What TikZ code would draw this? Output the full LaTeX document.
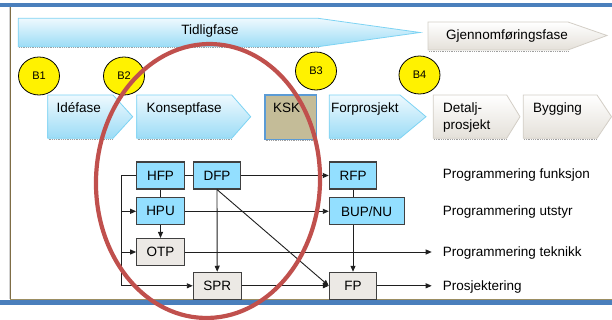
\documentclass[tikz,border=0pt]{standalone}
\usepackage{fontspec}
\setmainfont{Liberation Sans}
\usetikzlibrary{arrows.meta,shapes.geometric}
\newcommand\figfont{\fontsize{13.5}{16}\selectfont}
\newcommand\bfont{\fontsize{11}{13}\selectfont}
\definecolor{frameblue}{HTML}{4A7FBC}
\definecolor{framebrown}{HTML}{7F6D45}
\definecolor{frametan}{HTML}{9C8E62}
\definecolor{cyantop}{HTML}{EEF9FE}
\definecolor{cyanbot}{HTML}{9CDCF6}
\definecolor{cyanline}{HTML}{7DD3F3}
\definecolor{greytop}{HTML}{FFFFFF}
\definecolor{greybot}{HTML}{E4E0D9}
\definecolor{greyline}{HTML}{D3CEC6}
\definecolor{kskfill}{HTML}{C4BC98}
\definecolor{kskline}{HTML}{5B9BD5}
\definecolor{boxblue}{HTML}{93DFFF}
\definecolor{boxgrey}{HTML}{ECE9E5}
\definecolor{boxline}{HTML}{404040}
\definecolor{ringred}{HTML}{C0504D}
\tikzset{
  phaseblue/.style={top color=cyantop, bottom color=cyanbot, draw=cyanline, line width=0.8},
  phasegrey/.style={top color=greytop, bottom color=greybot, draw=greyline, line width=0.8},
  shadowline/.style={draw=gray!75, line width=1.1, dash pattern=on 0.7pt off 1.1pt},
  phasetext/.style={anchor=base west, inner sep=0, font=\figfont},
  milestone/.style={ellipse, draw=black, line width=0.8, fill=yellow, minimum width=41, minimum height=38, inner sep=0, font=\bfont},
  bluebox/.style={draw=boxline, fill=boxblue, line width=1.1, minimum height=27, inner sep=0, font=\figfont},
  greybox/.style={draw=boxline, fill=boxgrey, line width=1.1, minimum height=27, inner sep=0, font=\figfont},
  conn/.style={draw=black!88, line width=0.9},
  arr/.style={conn, -{Triangle[length=6pt,width=5pt]}},
  rowlabel/.style={anchor=base west, inner sep=0, font=\figfont},
}
\begin{document}
\begin{tikzpicture}[x=1pt, y=-1pt]
\useasboundingbox (0,0) rectangle (612,320);

% frame lines
\fill[frameblue] (0,3.5) rectangle (612,7);
\draw[gray!35, line width=0.8] (9,7) -- (9,299);
\draw[framebrown, line width=1.3] (10.4,7) -- (10.4,299.5);
\draw[frametan, line width=1.3] (10,299.6) -- (612,299.6);
\fill[frameblue] (0,300.4) rectangle (612,305);

% overall phases
\draw[shadowline] (19,47.8) -- (318,47.8);
\path[phaseblue] (18.3,18.3) -- (318,18.3) -- (420,32.5) -- (318,46.7) -- (18.3,46.7) -- cycle;
\node[inner sep=0, font=\figfont] (tidlig) at (210,31) {Tidligfase};
\draw[shadowline] (429,51.2) -- (568,51.2);
\path[phasegrey] (428,22) -- (568,22) -- (607,35.5) -- (568,50) -- (428,50) -- cycle;
\node[inner sep=0, font=\figfont] (gjennom) at (507,36) {Gjennomføringsfase};

% project phases
\draw[shadowline] (48.5,139.5) -- (113,139.5);
\path[phaseblue] (47.7,95) -- (113,95) -- (132.7,116.7) -- (113,138.3) -- (47.7,138.3) -- cycle;
\node[phasetext] (ide) at (56.5,113) {Idéfase};

\draw[shadowline] (137.5,139.5) -- (231.7,139.5);
\path[phaseblue] (136.7,95) -- (231.7,95) -- (250.7,116.7) -- (231.7,138.3) -- (136.7,138.3) -- cycle;
\node[phasetext] (konsept) at (146.5,113) {Konseptfase};

\draw[shadowline] (265.5,140.6) -- (316.5,140.6);
\path[fill=kskfill, draw=kskline, line width=1.2] (265,95) rectangle (316.7,139.4);
\node[phasetext] (ksk) at (273,113) {KSK};

\draw[shadowline] (330,139.5) -- (400,139.5);
\path[phaseblue] (329.3,95) -- (400,95) -- (426,116.7) -- (400,138.3) -- (329.3,138.3) -- cycle;
\node[phasetext] (forpro) at (331,113) {Forprosjekt};

\draw[shadowline] (434,139.5) -- (506.7,139.5);
\path[phasegrey] (433.3,95) -- (506.7,95) -- (520,116.7) -- (506.7,138.3) -- (433.3,138.3) -- cycle;
\node[phasetext] (detalj) at (443,113) {Detalj-};
\node[phasetext] (detalj2) at (443,130) {prosjekt};

\draw[shadowline] (524,139.5) -- (597,139.5);
\path[phasegrey] (523.3,95) -- (597,95) -- (611.5,116.7) -- (597,138.3) -- (523.3,138.3) -- cycle;
\node[phasetext] (bygging) at (533,113) {Bygging};

% decision gates
\node[milestone] (B1) at (39,76) {B1};
\node[milestone] (B2) at (124,76) {B2};
\node[milestone] (B3) at (316,71) {B3};
\node[milestone] (B4) at (419.5,75) {B4};

% programme documents
\node[bluebox, minimum width=47.6] (HFP) at (160.5,175.5) {HFP};
\node[bluebox, minimum width=47.4] (DFP) at (217,175.5) {DFP};
\node[bluebox, minimum width=47.6] (HPU) at (160.5,211.3) {HPU};
\node[greybox, minimum width=47.6] (OTP) at (160.5,252) {OTP};
\node[greybox, minimum width=47.7] (SPR) at (217.2,285.8) {SPR};
\node[bluebox, minimum width=47.4] (RFP) at (353,175.5) {RFP};
\node[bluebox, minimum width=74.7] (BUP) at (366.7,211.3) {BUP/NU};
\node[greybox, minimum width=47.4] (FP) at (353,285.8) {FP};

\coordinate (bus) at (121,175.5);
\coordinate (tek) at (431.7,252);
\coordinate (pro) at (431.7,285.8);

% connectors
\draw[conn] (HFP.west) -- (bus);
\draw[arr] (bus) |- (SPR.west);
\draw[arr] (bus |- HPU.west) -- (HPU.west);
\draw[arr] (bus |- OTP.west) -- (OTP.west);
\draw[conn] (HFP.east) -- (DFP.west);
\draw[conn] (HFP.south) -- (HPU.north);
\draw[arr] (HPU.south) -- (OTP.north);
\draw[arr] (DFP.south) -- (SPR.north);
\draw[arr] (DFP.south) -- (FP.west);
\draw[arr] (DFP.east) -- (RFP.west);
\draw[arr] (HPU.east) -- (HPU.east -| BUP.west);
\draw[conn] (RFP.south) -- (RFP.south |- BUP.north);
\draw[arr] (FP.north |- BUP.south) -- (FP.north);
\draw[arr] (SPR.east) -- (FP.west);
\draw[arr] (OTP.east) -- (tek);
\draw[arr] (FP.east) -- (pro);

% row labels
\node[rowlabel] (lfunk) at (442.7,178.3) {Programmering funksjon};
\node[rowlabel] (lutst) at (442.7,215.6) {Programmering utstyr};
\node[rowlabel] (ltek) at (442.7,256.6) {Programmering teknikk};
\node[rowlabel] (lpro) at (442.7,290.4) {Prosjektering};

% highlight ring
\draw[ringred, line width=4.2, rotate around={-2:(208,181)}] (208,181) ellipse [x radius=112, y radius=137];
\end{tikzpicture}
\end{document}
